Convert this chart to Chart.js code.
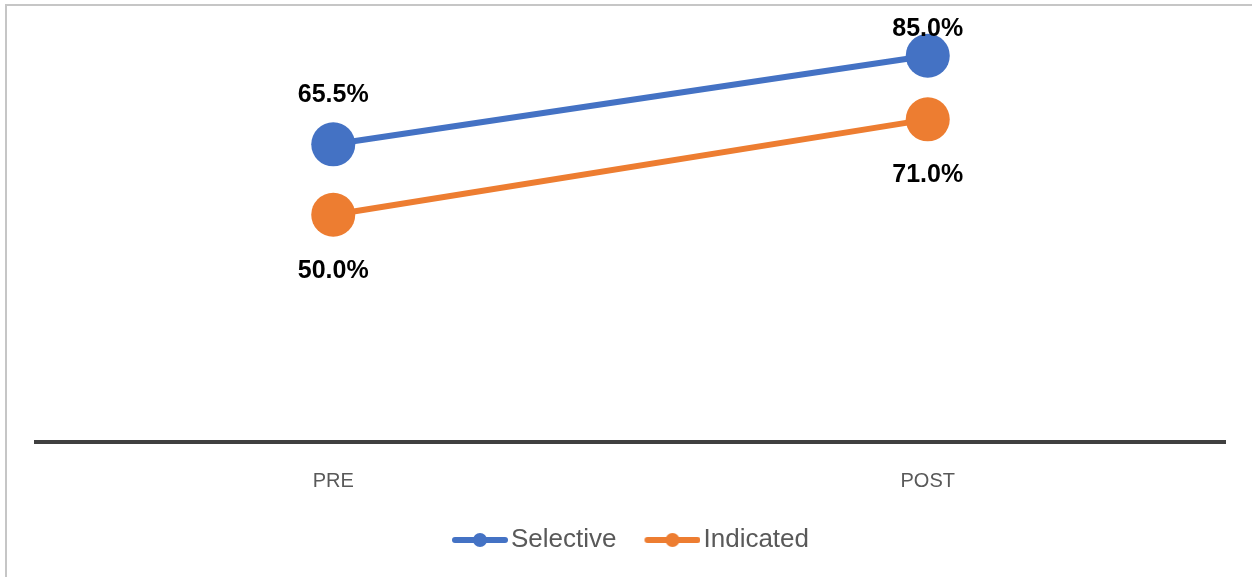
<!DOCTYPE html>
<html><head><meta charset="utf-8">
<script src="https://cdn.jsdelivr.net/npm/chart.js@4.4.1/dist/chart.umd.min.js"></script>
<style>
html,body{margin:0;padding:0;background:#fff;overflow:hidden;}
#frame{position:absolute;left:5px;top:4px;width:1300px;height:700px;border:2px solid #c6c6c6;box-sizing:border-box;}
#wrap{position:absolute;left:0;top:0;width:1252px;height:577px;}
</style></head><body>
<div id="frame"></div>
<div id="wrap"><canvas id="c"></canvas></div>
<script>
const categories = ['PRE', 'POST'];
const selectiveValues = [65.5, 85.0];
const indicatedValues = [50.0, 71.0];
const seriesNames = ['Selective', 'Indicated'];
const seriesColors = ['#4472C4', '#ED7D31'];

const FONT = "'Liberation Sans', Arial, sans-serif";

// legend marker: line with dot; image centred on a 46px box, reaching 10px past its right edge
function legendImg(color){
  const c = document.createElement('canvas');
  c.width = 66; c.height = 16;
  const g = c.getContext('2d');
  g.strokeStyle = color; g.lineWidth = 6; g.lineCap = 'round';
  g.beginPath(); g.moveTo(13, 8); g.lineTo(63, 8); g.stroke();
  g.fillStyle = color;
  g.beginPath(); g.arc(38, 8, 7, 0, Math.PI * 2); g.fill();
  return c;
}
const legendImgs = seriesColors.map(legendImg);

const labelPlugin = {
  id: 'valueLabels',
  afterDatasetsDraw(chart){
    const ctx = chart.ctx;
    ctx.save();
    ctx.font = 'bold 25px ' + FONT;
    ctx.fillStyle = '#000';
    ctx.textAlign = 'center';
    ctx.textBaseline = 'middle';
    chart.data.datasets.forEach((ds, di) => {
      const meta = chart.getDatasetMeta(di);
      meta.data.forEach((pt, i) => {
        const v = ds.data[i];
        const y = di === 0 ? Math.max(pt.y - 49, 29) : pt.y + 56;
        ctx.fillText(v.toFixed(1) + '%', pt.x, y);
      });
    });
    ctx.restore();
  }
};

new Chart(document.getElementById('c'), {
  type: 'line',
  data: {
    labels: categories,
    datasets: [
      { label: seriesNames[0], data: selectiveValues, borderColor: seriesColors[0], backgroundColor: seriesColors[0],
        borderWidth: 6, pointRadius: 22, pointHoverRadius: 22, pointBorderWidth: 0, clip: false },
      { label: seriesNames[1], data: indicatedValues, borderColor: seriesColors[1], backgroundColor: seriesColors[1],
        borderWidth: 6, pointRadius: 22, pointHoverRadius: 22, pointBorderWidth: 0, clip: false }
    ]
  },
  options: {
    responsive: true,
    maintainAspectRatio: false,
    animation: false,
    layout: { padding: { top: 33, left: 36, right: 27, bottom: 14 } },
    plugins: {
      tooltip: { enabled: false },
      legend: {
        position: 'bottom',
        labels: {
          usePointStyle: true,
          pointStyleWidth: 46,
          padding: 28,
          color: '#595959',
          font: { size: 26, family: FONT },
          generateLabels(chart){
            return chart.data.datasets.map((ds, i) => ({
              text: ds.label, pointStyle: legendImgs[i], fillStyle: ds.borderColor,
              strokeStyle: ds.borderColor, lineWidth: 0, hidden: false, datasetIndex: i,
              fontColor: '#595959'
            }));
          }
        }
      }
    },
    scales: {
      x: {
        offset: true,
        grid: { display: false, drawTicks: false },
        border: { display: true, color: '#404040', width: 4 },
        ticks: { color: '#595959', font: { size: 20, family: FONT }, padding: 27 },
        afterFit(scale){ scale.height = 57; }
      },
      y: { display: false, min: 0, max: 90 }
    }
  },
  plugins: [labelPlugin]
});
</script>
</body></html>
